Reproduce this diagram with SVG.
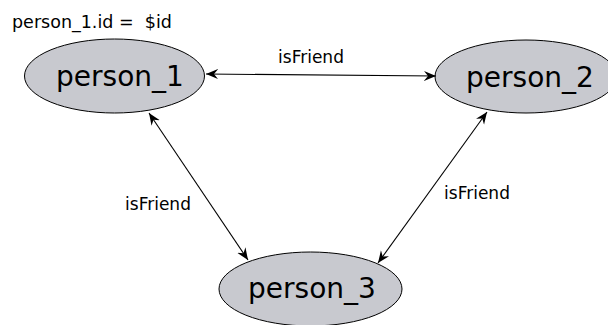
<svg xmlns="http://www.w3.org/2000/svg" width="608" height="325" viewBox="0 0 608 325">
  <style>
    .node ellipse { fill: #c8c9cf; stroke: #000; stroke-width: 1; }
    .node text { font-family: "DejaVu Sans", sans-serif; font-size: 28px; fill: #000; text-anchor: middle; }
    .edge line { stroke: #000; stroke-width: 1.1; marker-start: url(#arrow); marker-end: url(#arrow); }
    .label { font-family: "DejaVu Sans", sans-serif; font-size: 17px; fill: #000; }
  </style>
  <defs>
    <marker id="arrow" viewBox="-12 -6 14 12" refX="0" refY="0" markerWidth="14" markerHeight="12" markerUnits="userSpaceOnUse" orient="auto-start-reverse">
      <path d="M0,0 L-12,-5 L-8,0 L-12,5 Z" fill="#000"/>
    </marker>
  </defs>

  <text class="label" x="12" y="28" style="font-size:17.5px; white-space:pre" xml:space="preserve">person_1.id =  $id</text>

  <g id="person_1" class="node">
    <ellipse cx="114.5" cy="76" rx="90" ry="37"/>
    <text x="120" y="86">person_1</text>
  </g>
  <g id="person_2" class="node">
    <ellipse cx="526" cy="76.5" rx="91" ry="36.5"/>
    <text x="530" y="87">person_2</text>
  </g>
  <g id="person_3" class="node">
    <ellipse cx="310.5" cy="289" rx="91.5" ry="37"/>
    <text x="312" y="298">person_3</text>
  </g>

  <g id="edges" class="edge">
    <line x1="206" y1="74" x2="436" y2="76"/>
    <line x1="149" y1="113" x2="248" y2="260"/>
    <line x1="487" y1="112" x2="378" y2="263"/>
  </g>
  <g id="edge-labels">
    <text class="label" x="311" y="63" text-anchor="middle">isFriend</text>
    <text class="label" x="158" y="210" text-anchor="middle">isFriend</text>
    <text class="label" x="477" y="199" text-anchor="middle">isFriend</text>
  </g>
</svg>
